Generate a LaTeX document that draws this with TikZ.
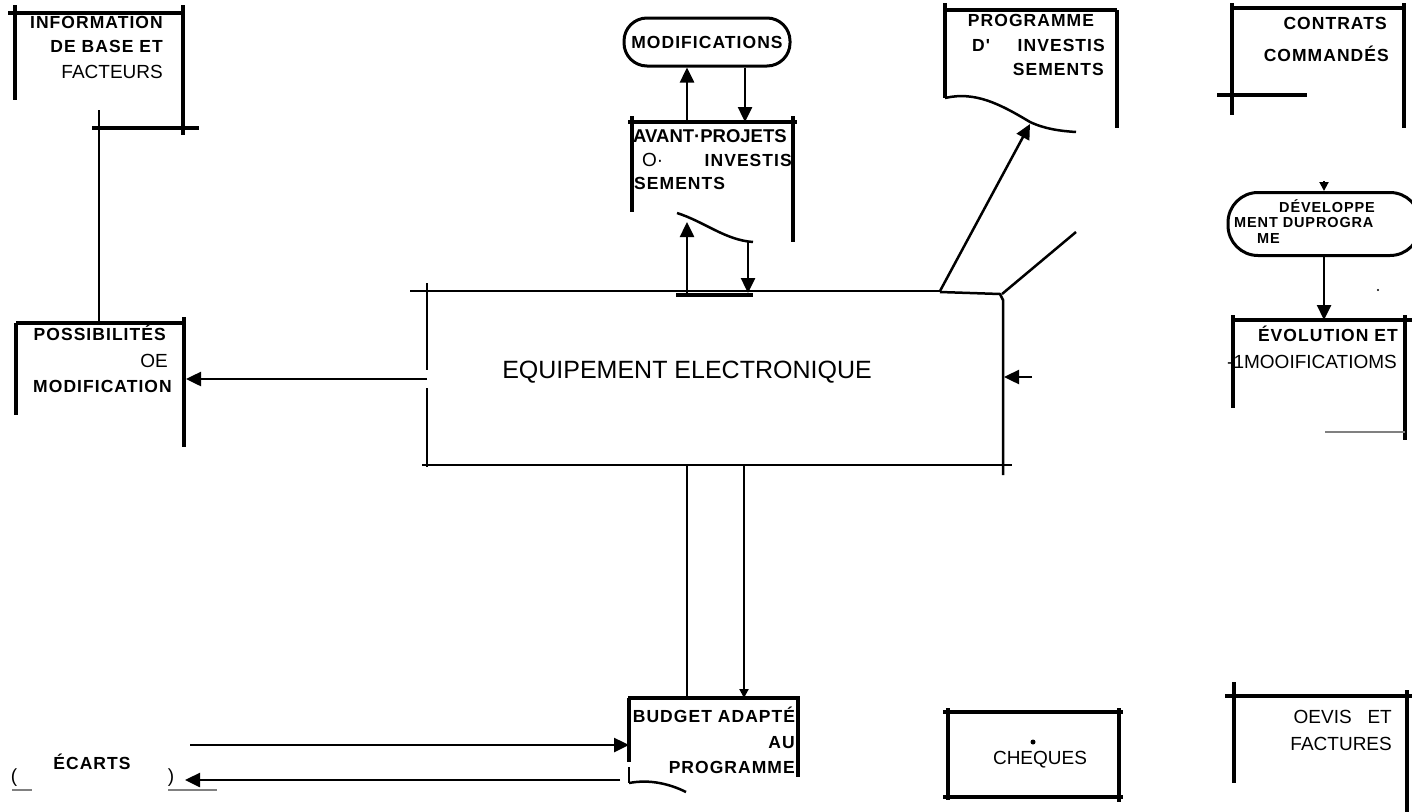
\documentclass[tikz,border=0pt]{standalone}
\usepackage{fontspec}
\setmainfont{Liberation Sans}
\newfontfamily\scanfont{Liberation Sans}[LetterSpace=6]
\usetikzlibrary{arrows.meta}

\begin{document}
\begin{tikzpicture}[
    x=1pt, y=-1pt,
    frame/.style={line width=3.4pt},
    link/.style={line width=2.5pt},
    tri/.style={line width=2.5pt, -{Triangle[length=15pt,width=14pt]}},
    smalltri/.style={line width=2pt, -{Triangle[length=9pt,width=9pt]}},
    scan/.style={font=\scanfont\bfseries\fontsize{17.5}{19}\selectfont, inner sep=0pt, yshift=-3pt},
    small/.style={font=\scanfont\bfseries\fontsize{14.5}{15}\selectfont, inner sep=0pt, yshift=-3pt},
    plain/.style={font=\fontsize{19}{21}\selectfont, inner sep=0pt, yshift=-3pt},
    heavy/.style={font=\bfseries\fontsize{18.5}{20}\selectfont, inner sep=0pt, yshift=-2pt},
    stadium/.style={draw, line width=3pt, inner sep=0pt}
  ]
    \useasboundingbox (0,0) rectangle (1412,811);

    % information de base
    \draw[frame] (8,13) -- (185,13);
    \draw[frame] (15,5) -- (15,100);
    \draw[frame] (183,5) -- (183,135);
    \draw[frame] (92,128) -- (199,128);
    \node[scan, anchor=mid east] (info1) at (163,23) {INFORMATION};
    \node[scan, anchor=mid east] (info2) at (163,47) {DE BASE ET};
    \node[plain, anchor=mid east] (info3) at (163,73) {FACTEURS};

    % possibilites
    \draw[frame] (16,323) -- (185,323);
    \draw[frame] (16,323) -- (16,415);
    \draw[frame] (184,317) -- (184,447);
    \node[scan, anchor=mid east] (poss1) at (166,335) {POSSIBILITÉS};
    \node[plain, anchor=mid east] (poss2) at (168,362) {OE};
    \node[scan, anchor=mid east] (poss3) at (172,387) {MODIFICATION};
    \coordinate (infoFoot) at (99,110);
    \coordinate (possTop) at (99,323);
    \draw[link] (infoFoot) -- (possTop);

    % equipement
    \draw[link] (410,291) -- (940,291);
    \draw[link] (427,283) -- (427,370);
    \draw[link] (427,388) -- (427,467);
    \draw[link] (422,465) -- (1012,465);
    \draw[link] (940,292) -- (1000,294) -- (1003,300) -- (1003,475);
    \node[font=\fontsize{25}{28}\selectfont, inner sep=0pt] (equip) at (687,372) {EQUIPEMENT ELECTRONIQUE};
    \coordinate (eqWest) at (427,379);
    \coordinate (possEast) at (186,379);
    \draw[tri] (eqWest) -- (possEast);
    \coordinate (eqEastIn) at (1032,377);
    \coordinate (eqEast) at (1004,377);
    \draw[tri] (eqEastIn) -- (eqEast);

    % programme
    \draw[frame] (945,10) -- (1117,10);
    \draw[frame] (945,3) -- (945,98);
    \draw[frame] (1117,10) -- (1117,128);
    \draw[link] (945,98) .. controls (975,91) and (1000,104) .. (1030,122)
      .. controls (1045,129) and (1060,131) .. (1076,132);
    \node[scan, anchor=mid] (prog1) at (1031,21) {PROGRAMME};
    \node[scan, anchor=mid west] (prog2) at (972,46) {D'};
    \node[scan, anchor=mid east] (prog3) at (1105,46) {INVESTIS};
    \node[scan, anchor=mid east] (prog4) at (1104,70) {SEMENTS};
    \coordinate (eqNE) at (940,291);
    \coordinate (progIn) at (1030,124);
    \draw[tri] (eqNE) -- (progIn);
    \coordinate (eqCorner) at (1002,294);
    \coordinate (progOut) at (1076,232);
    \draw[link] (eqCorner) -- (progOut);

    % modifications
    \node[stadium, font=\scanfont\bfseries\fontsize{17.5}{19}\selectfont, rounded corners=23pt, minimum width=166pt, minimum height=48pt] (modif) at (707,42) {MODIFICATIONS};

    % avant-projets
    \draw[frame] (628,122) -- (797,122);
    \draw[frame] (632,116) -- (632,212);
    \draw[frame] (793,116) -- (793,242);
    \draw[link] (677,213) .. controls (705,222) and (725,240) .. (753,242);
    \node[heavy, anchor=mid west] (avant1) at (633,138) {AVANT·PROJETS};
    \node[plain, anchor=mid west] (avant2) at (642,161) {O·};
    \node[scan, anchor=mid east] (avant3) at (792,161) {INVESTIS};
    \node[scan, anchor=mid west] (avant4) at (634,184) {SEMENTS};
    \coordinate (avUp) at (687,122);
    \coordinate (avDown) at (745,122);
    \draw[tri] (avUp) -- (avUp |- modif.south);
    \draw[tri] (avDown |- modif.south) -- (avDown);
    \coordinate (eqUp) at (687,294);
    \coordinate (avCurveL) at (687,222);
    \draw[tri] (eqUp) -- (avCurveL);
    \coordinate (avCurveR) at (748,242);
    \coordinate (eqDown) at (748,293);
    \draw[tri] (avCurveR) -- (eqDown);
    \draw[frame] (676,295) -- (753,295);

    % budget
    \draw[frame] (628,698) -- (800,698);
    \draw[frame] (629,698) -- (629,762);
    \draw[link] (629,767) -- (629,783);
    \draw[frame] (798,698) -- (798,777);
    \draw[link] (629,783) .. controls (650,779) and (670,784) .. (686,792);
    \node[scan, anchor=mid] (bud1) at (714,717) {BUDGET ADAPTÉ};
    \node[scan, anchor=mid east] (bud2) at (795,743) {AU};
    \node[scan, anchor=mid east] (bud3) at (795,768) {PROGRAMME};
    \coordinate (eqB1) at (687,466);
    \coordinate (budT1) at (687,697);
    \draw[link] (eqB1) -- (budT1);
    \coordinate (eqB2) at (744,466);
    \coordinate (budT2) at (744,698);
    \draw[smalltri] (eqB2) -- (budT2);
    \coordinate (ecIn) at (190,745);
    \coordinate (budW) at (629,745);
    \draw[tri] (ecIn) -- (budW);
    \coordinate (budOut) at (620,780);
    \coordinate (ecOut) at (185,780);
    \draw[tri] (budOut) -- (ecOut);

    % ecarts
    \node[scan] (ecarts) at (92,759) {ÉCARTS};
    \node[plain] (parL) at (14,775) {(};
    \node[plain] (parR) at (171,775) {)};
    \draw[gray, line width=1.2pt] (12,790) -- (32,790);
    \draw[gray, line width=1.2pt] (168,790) -- (217,790);

    % contrats
    \draw[frame] (1232,8) -- (1404,8);
    \draw[frame] (1232,3) -- (1232,115);
    \draw[frame] (1404,3) -- (1404,128);
    \draw[frame] (1217,95) -- (1307,95);
    \node[scan, anchor=mid east] (contr1) at (1387,24) {CONTRATS};
    \node[scan, anchor=mid east] (contr2) at (1389,56) {COMMANDÉS};

    % developpement
    \node[stadium, rounded corners=30pt, minimum width=192pt, minimum height=63pt] (devel) at (1324,224) {};
    \node[small, anchor=mid] (devel1) at (1327,207) {DÉVELOPPE};
    \node[small, anchor=mid west] (devel2) at (1234,222) {MENT DUPROGRA};
    \node[small, anchor=mid west] (devel3) at (1257,238) {ME};
    \coordinate (devTop) at (1324,181);
    \draw[smalltri] (devTop) -- (devel.north);
    \coordinate (evolTop) at (1324,320);
    \draw[tri] (devel.south) -- (evolTop);
    \fill (1378,290) circle (1.2pt);

    % evolution
    \draw[frame] (1232,320) -- (1414,320);
    \draw[frame] (1233,315) -- (1233,408);
    \draw[frame] (1405,315) -- (1405,440);
    \draw[gray, line width=1.5pt] (1325,432) -- (1405,432);
    \node[scan, anchor=mid east] (evol1) at (1398,336) {ÉVOLUTION ET};
    \node[plain, anchor=mid east] (evol2) at (1397,363) {-1MOOIFICATIOMS};

    % cheques
    \draw[frame] (943,712) -- (1123,712);
    \draw[frame] (943,797) -- (1123,797);
    \draw[frame] (948,708) -- (948,800);
    \draw[frame] (1119,708) -- (1119,802);
    \node[plain] (cheq) at (1040,757) {CHEQUES};
    \fill (1033,742) circle (2.5pt);

    % devis
    \draw[frame] (1225,696) -- (1414,696);
    \draw[frame] (1234,682) -- (1234,783);
    \draw[frame] (1407,690) -- (1407,815);
    \node[plain, anchor=mid east] (devis1) at (1392,718) {OEVIS\ \ \ ET};
    \node[plain, anchor=mid east] (devis2) at (1392,745) {FACTURES};
  \end{tikzpicture}
\end{document}
